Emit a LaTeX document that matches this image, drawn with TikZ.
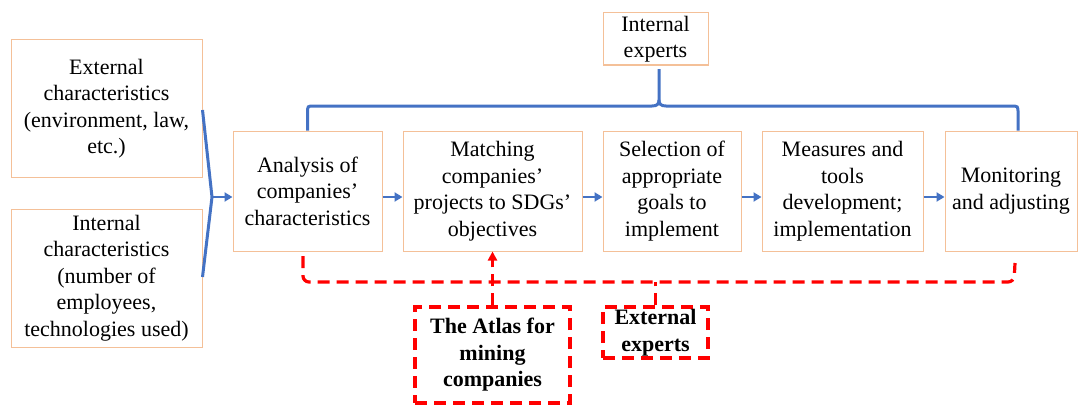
\documentclass[tikz,border=0pt]{standalone}
\usepackage{fontspec}
\setmainfont{Liberation Serif}
\usetikzlibrary{arrows.meta,calc}
\definecolor{boxor}{RGB}{244,192,152}
\definecolor{bluel}{RGB}{68,114,196}
\definecolor{redd}{RGB}{255,0,0}
\tikzset{
 box/.style={draw=boxor, line width=1pt, fill=white, inner sep=0pt, align=center, font=\fontsize{22}{26.5}\selectfont},
 rbox/.style={draw=redd, line width=3.2pt, dash pattern=on 12pt off 7pt, fill=white, inner sep=0pt, align=center, font=\fontsize{22}{26.5}\selectfont\bfseries},
 bline/.style={draw=bluel, line width=3pt},
 barrow/.style={draw=bluel, line width=2.6pt, -{Triangle[length=8pt,width=9pt]}},
 rline/.style={draw=redd, line width=3.2pt, dash pattern=on 12pt off 7pt},
}
\begin{document}
\begin{tikzpicture}[x=1pt,y=-1pt]
\fill[white] (0,0) rectangle (1078,404);
\useasboundingbox (0,0) rectangle (1078,404);
% red dashed connectors (behind boxes)
\coordinate (rl) at (303,256);
\coordinate (rc1) at (303,282);
\coordinate (rc2) at (1014,282);
\coordinate (rr) at (1015,263);
\draw[rline, rounded corners=6pt] (rl) -- (rc1) -- (rc2) -- (rr);
% boxes
\node[box, minimum width=191pt, minimum height=137pt] (ext) at (106.5,108.5) {External\\characteristics\\(environment, law,\\etc.)};
\node[box, minimum width=191pt, minimum height=138pt] (int) at (106.5,278) {Internal\\characteristics\\(number of\\employees,\\technologies used)};
\node[box, minimum width=149pt, minimum height=120pt] (ana) at (307.5,191) {Analysis of\\companies'\\characteristics};
\node[box, minimum width=179pt, minimum height=120pt] (mat) at (492.5,191) {Matching\\companies'\\projects to SDGs'\\objectives};
\node[box, minimum width=138pt, minimum height=120pt] (sel) at (672,191) {Selection of\\appropriate\\goals to\\implement};
\node[box, minimum width=161pt, minimum height=120pt] (mea) at (842.5,191) {Measures and\\tools\\development;\\implementation};
\node[box, minimum width=132pt, minimum height=120pt] (mon) at (1011,191) {Monitoring\\and adjusting};
\node[box, minimum width=105pt, minimum height=52pt] (iexp) at (655.5,39) {Internal\\experts};
\node[rbox, minimum width=155pt, minimum height=96pt] (atlas) at (492.5,355) {The Atlas for\\mining\\companies};
\node[rbox, minimum width=105pt, minimum height=51pt] (eexp) at (655.5,332.5) {External\\experts};
% red connectors to boxes
\draw[rline, -{Triangle[length=9pt,width=9pt]}] (atlas.north) -- (mat.south);
\draw[rline] (eexp.north) -- (eexp.north |- rc1);
% left brace
\coordinate (ltip) at (212,197);
\draw[bline] ([yshift=-1.5pt]ext.east) -- (ltip) -- ([yshift=1pt]int.east);
\draw[barrow] (ltip) -- (ltip -| ana.west);
% arrows between steps
\draw[barrow] (ana.east |- ltip) -- (mat.west |- ltip);
\draw[barrow] (mat.east |- ltip) -- (sel.west |- ltip);
\draw[barrow] (sel.east |- ltip) -- (mea.west |- ltip);
\draw[barrow] (mea.east |- ltip) -- (mon.west |- ltip);
% top brace
\coordinate (btip) at (659,100);
\coordinate (btop) at (659,69);
\coordinate (mtop) at ([xshift=7pt]mon.north);
\draw[bline] (ana.north) -- (307.5,113) .. controls (307.5,106) .. (314,106) -- (652,106) .. controls (657,106) and (659,104) .. (btip) -- (btop);
\draw[bline] (mtop) -- (1018,113) .. controls (1018,106) .. (1011,106) -- (666,106) .. controls (661,106) and (659,104) .. (btip);
\end{tikzpicture}
\end{document}
